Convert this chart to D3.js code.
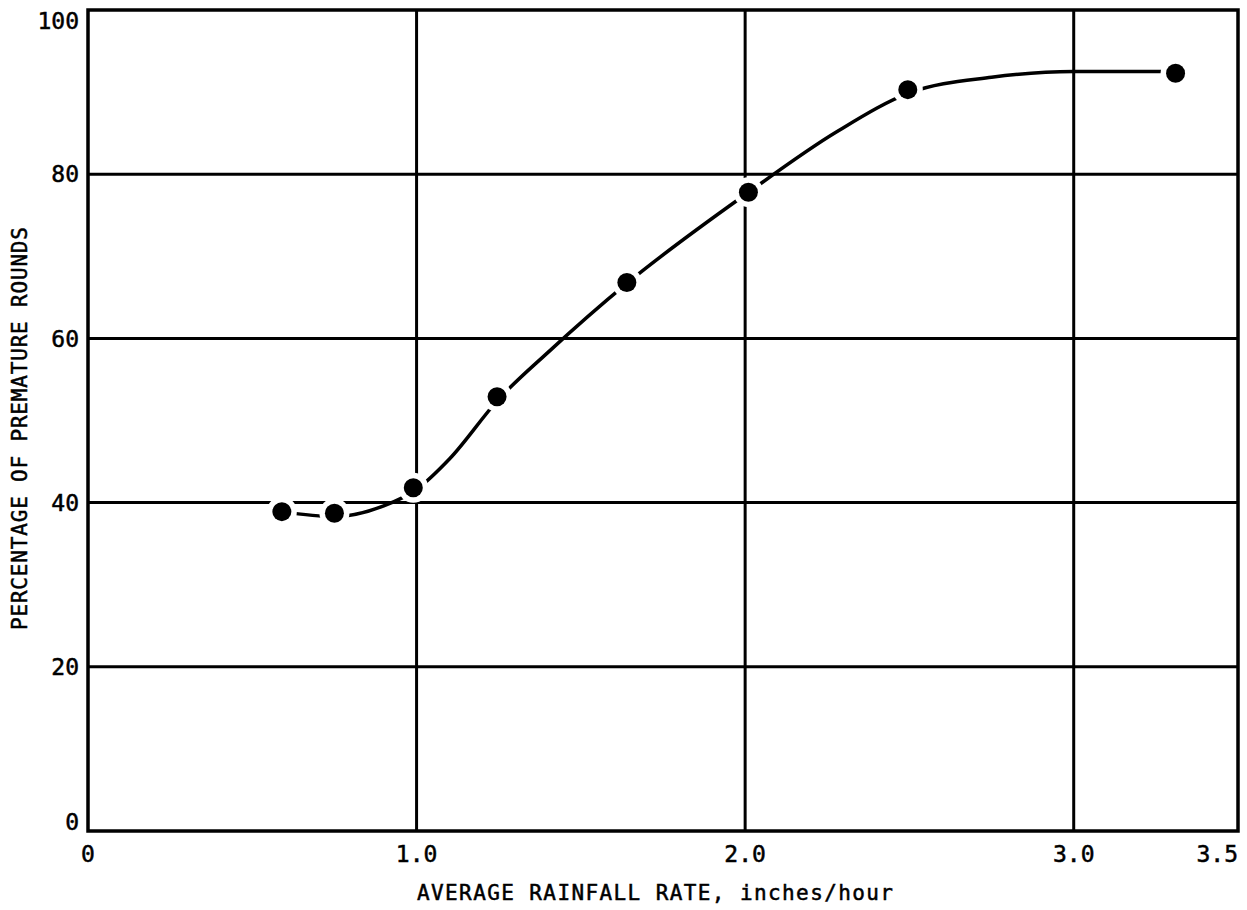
<!DOCTYPE html>
<html>
<head>
<meta charset="utf-8">
<script src="https://cdn.jsdelivr.net/npm/d3@7/dist/d3.min.js"></script>
<style>
  html, body { margin: 0; padding: 0; background: #fff; }
  svg { display: block; }
  text { font-family: "DejaVu Sans Mono", "Liberation Mono", monospace; fill: #000; stroke: #000; stroke-width: 0.5px; }
</style>
</head>
<body>
<svg id="chart" width="1247" height="910"></svg>
<script>
// Measured test rounds: average rainfall rate (in/h) vs. percentage of premature rounds
const rainfallRate = [0.59, 0.75, 0.99, 1.245, 1.64, 2.01, 2.495, 3.31];
const prematurePct = [38.9, 38.7, 41.8, 52.9, 66.8, 77.8, 90.3, 92.3];

// Hand-faired trend curve through the measurements
const curveRate = [0.59, 0.75, 0.9, 1.0, 1.1, 1.25, 1.4, 1.64, 2.0, 2.28, 2.5, 2.75, 3.0, 3.27];
const curvePct  = [38.9, 38.3, 39.6, 41.6, 45.3, 52.6, 58.3, 66.7, 77.5, 85.2, 89.9, 91.8, 92.5, 92.5];

// Axis ticks
const xTicks = [0, 1.0, 2.0, 3.0, 3.5];
const xTickLabels = ["0", "1.0", "2.0", "3.0", "3.5"];
const xGrid = [1.0, 2.0, 3.0];
const yTicks = [0, 20, 40, 60, 80, 100];
const yGrid = [20, 40, 60, 80];

const xTitle = "AVERAGE RAINFALL RATE, inches/hour";
const yTitle = "PERCENTAGE OF PREMATURE ROUNDS";

const svg = d3.select("#chart");
const plot = { left: 88, right: 1238, top: 10, bottom: 831 };

const x = d3.scaleLinear().domain([0, 3.5]).range([plot.left, plot.right]);
const y = d3.scaleLinear().domain([0, 100]).range([plot.bottom, plot.top]);

// Grid lines
const grid = svg.append("g").attr("stroke", "#000").attr("stroke-width", 3);
grid.selectAll("line.v").data(xGrid).join("line")
  .attr("class", "v")
  .attr("x1", d => x(d)).attr("x2", d => x(d))
  .attr("y1", plot.top).attr("y2", plot.bottom);
grid.selectAll("line.h").data(yGrid).join("line")
  .attr("class", "h")
  .attr("x1", plot.left).attr("x2", plot.right)
  .attr("y1", d => y(d)).attr("y2", d => y(d));

// Frame
svg.append("rect")
  .attr("x", plot.left).attr("y", plot.top)
  .attr("width", plot.right - plot.left).attr("height", plot.bottom - plot.top)
  .attr("fill", "none").attr("stroke", "#000").attr("stroke-width", 3.5);

// Trend curve
const curveData = curveRate.map((r, i) => [r, curvePct[i]]);
const line = d3.line()
  .x(d => x(d[0])).y(d => y(d[1]))
  .curve(d3.curveMonotoneX);
svg.append("path")
  .datum(curveData)
  .attr("d", line)
  .attr("fill", "none")
  .attr("stroke", "#000")
  .attr("stroke-width", 3.5)
  .attr("stroke-linecap", "round");

// Measured points, each with a white clearance ring
const pts = rainfallRate.map((r, i) => [r, prematurePct[i]]);
svg.append("g").selectAll("circle").data(pts).join("circle")
  .attr("cx", d => x(d[0])).attr("cy", d => y(d[1]))
  .attr("r", 15).attr("fill", "#fff");
svg.append("g").selectAll("circle").data(pts).join("circle")
  .attr("cx", d => x(d[0])).attr("cy", d => y(d[1]))
  .attr("r", 9.5).attr("fill", "#000");

// Y tick labels
svg.append("g").selectAll("text").data(yTicks).join("text")
  .attr("x", 79)
  .attr("y", d => Math.min(Math.max(y(d), 21), 822))
  .attr("dy", "0.36em")
  .attr("text-anchor", "end")
  .attr("font-size", 23)
  .text(d => d);

// X tick labels
svg.append("g").selectAll("text").data(xTicks).join("text")
  .attr("x", (d, i) => i === xTicks.length - 1 ? plot.right : x(d))
  .attr("y", 862)
  .attr("text-anchor", (d, i) => i === xTicks.length - 1 ? "end" : "middle")
  .attr("font-size", 23)
  .text((d, i) => xTickLabels[i]);

// Axis titles
svg.append("text")
  .attr("x", 417).attr("y", 900)
  .attr("font-size", 21)
  .attr("textLength", 476)
  .attr("lengthAdjust", "spacing")
  .text(xTitle);

svg.append("text")
  .attr("transform", "translate(27,630) rotate(-90)")
  .attr("font-size", 21)
  .attr("textLength", 403)
  .attr("lengthAdjust", "spacing")
  .text(yTitle);
</script>
</body>
</html>
